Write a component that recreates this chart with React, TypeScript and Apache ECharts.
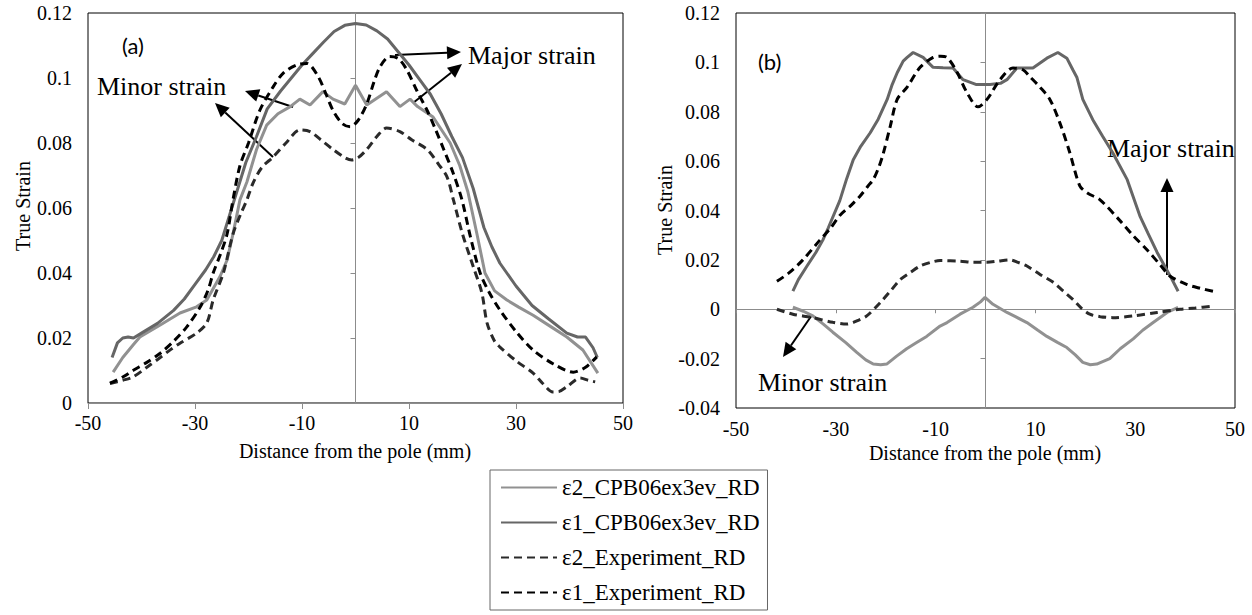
import React, { useEffect, useRef } from "react";
import * as echarts from "echarts";

// ---------- Data ----------
const X_MIN = -50;
const X_MAX = 50;
const X_STEP = 20;

const A_Y_MIN = 0;
const A_Y_MAX = 0.12;
const B_Y_MIN = -0.04;
const B_Y_MAX = 0.12;
const Y_STEP = 0.02;

const SERIES_NAMES = [
  "ε2_CPB06ex3ev_RD",
  "ε1_CPB06ex3ev_RD",
  "ε2_Experiment_RD",
  "ε1_Experiment_RD",
];

// (a) panel
const a_e2_cpb: number[][] = [
  [-45.3, 0.0095], [-43.5, 0.014], [-41.5, 0.018], [-40.3, 0.0203], [-36.5, 0.024], [-32.8, 0.0277],
  [-29.7, 0.0296], [-27.8, 0.0317], [-25.3, 0.039], [-24, 0.044], [-22.9, 0.052], [-21.6, 0.0625],
  [-20.3, 0.068], [-18.5, 0.078], [-16.6, 0.0855], [-14.5, 0.089], [-12.2, 0.0912], [-10.4, 0.0935],
  [-8.5, 0.0917], [-6.1, 0.0958], [-4.2, 0.0935], [-2, 0.092], [0, 0.0978], [2.1, 0.0917],
  [5.8, 0.0958], [8.3, 0.0912], [10.2, 0.0935], [11.6, 0.0912], [14.5, 0.088], [17.7, 0.08],
  [19.5, 0.073], [21, 0.065], [22.7, 0.052], [24.2, 0.04], [26, 0.0345], [28.3, 0.0317],
  [30.5, 0.0295], [33.2, 0.027], [36.5, 0.0235], [39.5, 0.0203], [42.5, 0.0163], [45.3, 0.0092],
];
const a_e1_cpb: number[][] = [
  [-45.5, 0.014], [-44.5, 0.0185], [-43.5, 0.02], [-42.5, 0.0203], [-41.5, 0.02], [-40, 0.0215],
  [-37, 0.0245], [-34, 0.0285], [-32, 0.032], [-30, 0.0365], [-28, 0.041], [-26.5, 0.045],
  [-25, 0.05], [-23.5, 0.058], [-22, 0.066], [-20.5, 0.074], [-18.5, 0.082], [-16.5, 0.0905],
  [-14, 0.096], [-12, 0.1], [-10, 0.104], [-8, 0.1075], [-6, 0.111], [-4, 0.1143], [-2, 0.1162],
  [0, 0.1168], [2, 0.1163], [4, 0.1145], [6, 0.112], [8, 0.108], [10, 0.104], [12, 0.0995],
  [14, 0.095], [16, 0.089], [18, 0.082], [20, 0.0755], [22, 0.066], [24, 0.054], [25.5, 0.048],
  [27, 0.043], [30, 0.036], [33, 0.03], [36, 0.026], [39.5, 0.0215], [41.5, 0.0203], [43, 0.0203],
  [44.4, 0.017], [45.2, 0.014],
];
const a_e2_exp: number[][] = [
  [-45.9, 0.006], [-43.5, 0.007], [-41.6, 0.008], [-39, 0.011], [-36.5, 0.014], [-34.5, 0.0165],
  [-32.8, 0.0184], [-29.7, 0.0215], [-27.8, 0.0246], [-26.6, 0.0317], [-24.7, 0.04], [-22.9, 0.052],
  [-21.5, 0.058], [-20.3, 0.0625], [-19.2, 0.0675], [-17.5, 0.0725], [-15.4, 0.0757], [-13, 0.08],
  [-10.4, 0.084], [-8.5, 0.0835], [-6.5, 0.081], [-4.2, 0.078], [-2, 0.0755], [-0.7, 0.0748],
  [0.5, 0.0755], [2.1, 0.078], [4, 0.082], [5.8, 0.0846], [8.3, 0.0835], [10.5, 0.081],
  [13.4, 0.078], [15.5, 0.0735], [17.1, 0.0696], [18.3, 0.0625], [20, 0.052], [22, 0.042],
  [23.6, 0.034], [24.6, 0.0246], [26, 0.019], [27, 0.0172], [30, 0.013], [33.2, 0.0092],
  [35, 0.006], [36.9, 0.0034], [38, 0.0035], [39.5, 0.005], [42, 0.0077], [43.5, 0.007], [44.8, 0.0065],
];
const a_e1_exp: number[][] = [
  [-45.9, 0.0061], [-43.5, 0.008], [-41.6, 0.01], [-39, 0.0125], [-36.5, 0.0153], [-34, 0.019],
  [-31.5, 0.0235], [-29, 0.0296], [-27.5, 0.035], [-26.6, 0.04], [-25.2, 0.046], [-24, 0.052],
  [-22.9, 0.0625], [-21.6, 0.073], [-20, 0.08], [-17.9, 0.09], [-15.5, 0.097], [-13.5, 0.1015],
  [-11, 0.104], [-9.1, 0.1045], [-7, 0.1005], [-5.5, 0.095], [-4.2, 0.09], [-2.5, 0.086],
  [-1, 0.085], [0.5, 0.087], [2.1, 0.092], [3.5, 0.099], [4.6, 0.1035], [6.4, 0.1066], [8, 0.106],
  [9.6, 0.1025], [11.5, 0.096], [13.4, 0.09], [15, 0.084], [16.5, 0.078], [18.2, 0.071],
  [19.9, 0.0625], [21.5, 0.051], [23.3, 0.04], [25, 0.034], [27, 0.0286], [30, 0.022],
  [33.2, 0.0163], [37, 0.012], [40.7, 0.0095], [43, 0.011], [45.1, 0.0142],
];

// (b) panel
const b_e2_cpb: number[][] = [
  [-38.6, 0.0008], [-36.5, -0.0008], [-34.6, -0.0027], [-32.5, -0.006], [-30.6, -0.0093], [-28, -0.0135],
  [-25.8, -0.0175], [-24, -0.0205], [-22.5, -0.0222], [-21, -0.0225], [-19.8, -0.0222], [-17.8, -0.019],
  [-15.8, -0.016], [-13.8, -0.0135], [-11.8, -0.011], [-9.1, -0.0068], [-7.7, -0.0054], [-5.1, -0.002],
  [-2.5, 0.0008], [-1, 0.003], [-0.1, 0.0048], [1.5, 0.002], [4.3, -0.0013], [6, -0.003],
  [8.3, -0.0054], [10.5, -0.0085], [12.3, -0.011], [14.5, -0.0135], [16.3, -0.0155], [18, -0.0185],
  [19.5, -0.0215], [21, -0.0225], [22.3, -0.0222], [24.9, -0.02], [27, -0.016], [29.6, -0.012],
  [31.5, -0.0085], [33.6, -0.0054], [36.4, -0.0013], [38.6, 0.0008],
];
const b_e1_cpb: number[][] = [
  [-38.6, 0.0073], [-37.5, 0.012], [-35.8, 0.0174], [-34, 0.023], [-32.6, 0.028], [-31.5, 0.033],
  [-29.2, 0.044], [-27.8, 0.053], [-26.5, 0.0606], [-25, 0.066], [-23.1, 0.0715], [-21.5, 0.077],
  [-19.7, 0.085], [-18.7, 0.091], [-17.7, 0.0958], [-16.5, 0.1005], [-15.7, 0.102], [-14.5, 0.104],
  [-12.5, 0.102], [-10.5, 0.098], [-8.5, 0.0978], [-6.5, 0.0977], [-4.5, 0.093], [-1.8, 0.091],
  [0.9, 0.091], [3, 0.0915], [4.3, 0.093], [6.3, 0.0977], [9.5, 0.0977], [12.3, 0.1017],
  [14.5, 0.104], [16.3, 0.1017], [17.5, 0.097], [18.3, 0.094], [19.5, 0.085], [21.5, 0.0768],
  [23.5, 0.07], [25.5, 0.0634], [28.4, 0.0525], [31, 0.0375], [32.5, 0.031], [34.4, 0.023],
  [37, 0.0135], [38.6, 0.0073],
];
const b_e2_exp: number[][] = [
  [-41.8, 0], [-38.6, -0.002], [-34.6, -0.0034], [-30.6, -0.0053], [-27.8, -0.006], [-25.5, -0.0045],
  [-23.8, -0.0027], [-21.1, 0.0027], [-19, 0.0075], [-17.1, 0.012], [-15, 0.015], [-13.1, 0.0175],
  [-11, 0.019], [-9.1, 0.0197], [-5.1, 0.0195], [-2.4, 0.019], [0.3, 0.019], [2.5, 0.0195],
  [4.9, 0.02], [6.5, 0.019], [8.3, 0.0175], [11, 0.014], [13.5, 0.011], [15.5, 0.0075],
  [17.5, 0.004], [19.2, 0.0005], [20.9, -0.002], [23, -0.003], [25.5, -0.0034], [29.6, -0.0027],
  [34.4, -0.0013], [39, 0], [42, 0.0005], [45.6, 0.0013],
];
const b_e1_exp: number[][] = [
  [-41.8, 0.0113], [-39.2, 0.015], [-36.6, 0.02], [-33.2, 0.028], [-31, 0.033], [-29.2, 0.038],
  [-27, 0.042], [-25.2, 0.0457], [-23.5, 0.05], [-22.5, 0.0525], [-21.3, 0.058], [-20.5, 0.063],
  [-19.1, 0.074], [-17.7, 0.085], [-15.7, 0.09], [-13.1, 0.098], [-10.5, 0.102], [-9, 0.1025],
  [-7.7, 0.102], [-5.7, 0.096], [-3.7, 0.0877], [-1.5, 0.082], [0.3, 0.085], [2.9, 0.093],
  [5.5, 0.0977], [7.5, 0.097], [9, 0.094], [10.9, 0.09], [12.9, 0.085], [14.9, 0.0755],
  [16.9, 0.0634], [18.9, 0.05], [20.5, 0.047], [22.9, 0.0444], [26.9, 0.036], [29.5, 0.03],
  [32.4, 0.024], [35, 0.018], [37, 0.0134], [40.4, 0.01], [43, 0.0085], [45.6, 0.0073],
];

// ---------- Styles ----------
const SERIF = "Liberation Serif";
const SANS = "Lato";
const AXIS_GRAY = "#8c8c8c";
const COLORS = ["#919191", "#666666", "#2a2a2a", "#000000"];
const DASH = [8, 5];

function arrow(x1: number, y1: number, x2: number, y2: number) {
  const dx = x2 - x1;
  const dy = y2 - y1;
  const L = Math.hypot(dx, dy);
  const ux = dx / L;
  const uy = dy / L;
  const hl = 14;
  const hw = 6.5;
  const bx = x2 - ux * hl;
  const by = y2 - uy * hl;
  return [
    { type: "line", shape: { x1, y1, x2: bx, y2: by }, style: { stroke: "#000", lineWidth: 2 } },
    {
      type: "polygon",
      shape: { points: [[x2, y2], [bx - uy * hw, by + ux * hw], [bx + uy * hw, by - ux * hw]] },
      style: { fill: "#000" },
    },
  ];
}

function label(text: string, x: number, y: number, size: number, family = SERIF, align = "left") {
  return {
    type: "text",
    x,
    y,
    style: { text, fill: "#000", fontSize: size, fontFamily: family, align, verticalAlign: "middle" },
  };
}

function labelAxis(gridIndex: number, yMin: number, yMax: number, margin: number) {
  return {
    gridIndex,
    type: "value",
    min: yMin,
    max: yMax,
    interval: Y_STEP,
    position: "left",
    axisLine: { show: false, onZero: false },
    axisTick: { show: false },
    splitLine: { show: false },
    axisLabel: { fontFamily: SERIF, fontSize: 20, color: "#000", margin },
  };
}
function lineYAxis(gridIndex: number, yMin: number, yMax: number) {
  return {
    gridIndex,
    type: "value",
    min: yMin,
    max: yMax,
    interval: Y_STEP,
    position: "left",
    axisLine: { show: true, onZero: true, lineStyle: { color: AXIS_GRAY, width: 1 } },
    axisTick: { show: true, length: 5, lineStyle: { color: AXIS_GRAY } },
    splitLine: { show: false },
    axisLabel: { show: false },
  };
}
function labelXAxis(gridIndex: number, margin: number, showLine: boolean) {
  return {
    gridIndex,
    type: "value",
    min: X_MIN,
    max: X_MAX,
    interval: X_STEP,
    position: "bottom",
    axisLine: { show: showLine, onZero: false, lineStyle: { color: AXIS_GRAY, width: 1 } },
    axisTick: { show: showLine, length: 6, lineStyle: { color: AXIS_GRAY } },
    splitLine: { show: false },
    axisLabel: { fontFamily: SERIF, fontSize: 20, color: "#000", margin },
  };
}
function lineXAxis(gridIndex: number) {
  return {
    gridIndex,
    type: "value",
    min: X_MIN,
    max: X_MAX,
    interval: X_STEP,
    position: "bottom",
    axisLine: { show: true, onZero: true, lineStyle: { color: AXIS_GRAY, width: 1 } },
    axisTick: { show: true, length: 4, lineStyle: { color: AXIS_GRAY } },
    splitLine: { show: false },
    axisLabel: { show: false },
  };
}

function mk(idx: number, data: number[][], xi: number, yi: number) {
  const dashed = idx >= 2;
  return {
    type: "line",
    name: SERIES_NAMES[idx],
    data,
    xAxisIndex: xi,
    yAxisIndex: yi,
    symbol: "none",
    showSymbol: false,
    smooth: dashed ? 0.3 : false,
    lineStyle: { color: COLORS[idx], width: 3, type: dashed ? DASH : "solid" },
    itemStyle: { color: COLORS[idx], opacity: 0 },
    z: 2 + idx,
  };
}

export default function App() {
  const ref = useRef<HTMLDivElement>(null);
  useEffect(() => {
    if (!ref.current) return;
    const chart = echarts.init(ref.current, undefined, { renderer: "svg" });
    const option = {
      animation: false,
      backgroundColor: "#fff",
      textStyle: { fontFamily: SERIF },
      grid: [
        { left: 88, top: 13, width: 535, height: 390, show: true, borderColor: "#000", borderWidth: 1, backgroundColor: "transparent" },
        { left: 736, top: 13, width: 499, height: 395, show: true, borderColor: "#000", borderWidth: 1, backgroundColor: "transparent" },
      ],
      xAxis: [
        labelXAxis(0, 10, true),
        labelXAxis(1, 11, false),
        lineXAxis(1),
      ],
      yAxis: [
        labelAxis(0, A_Y_MIN, A_Y_MAX, 16),
        lineYAxis(0, A_Y_MIN, A_Y_MAX),
        labelAxis(1, B_Y_MIN, B_Y_MAX, 16),
        lineYAxis(1, B_Y_MIN, B_Y_MAX),
      ],
      legend: {
        orient: "vertical",
        left: 490,
        top: 470,
        data: SERIES_NAMES,
        itemWidth: 56,
        itemHeight: 14,
        itemGap: 12,
        padding: [6, 8, 6, 10],
        borderColor: "#666",
        borderWidth: 1,
        itemStyle: { opacity: 0 },
        textStyle: { fontFamily: SERIF, fontSize: 23, color: "#000" },
      },
      series: [
        mk(0, a_e2_cpb, 0, 0),
        mk(1, a_e1_cpb, 0, 0),
        mk(2, a_e2_exp, 0, 0),
        mk(3, a_e1_exp, 0, 0),
        mk(0, b_e2_cpb, 1, 2),
        mk(1, b_e1_cpb, 1, 2),
        mk(2, b_e2_exp, 1, 2),
        mk(3, b_e1_exp, 1, 2),
      ],
      graphic: [
        label("(a)", 122, 45, 22, SANS),
        label("Minor strain", 97, 86, 26),
        label("Major strain", 468, 55, 26),
        label("(b)", 758, 61, 22, SANS),
        label("Major strain", 1107, 148, 26),
        label("Minor strain", 758, 382, 26),
        label("Distance from the pole (mm)", 355, 451, 20, SERIF, "center"),
        label("Distance from the pole (mm)", 985, 453, 20, SERIF, "center"),
        { ...label("True Strain", 23, 206, 20, SERIF, "center"), rotation: Math.PI / 2 },
        { ...label("True Strain", 665, 210, 20, SERIF, "center"), rotation: Math.PI / 2 },
        ...arrow(293, 107, 245, 91),
        ...arrow(273, 157, 215, 103),
        ...arrow(395, 55, 461, 52),
        ...arrow(413, 103, 462, 64),
        ...arrow(1167, 275, 1167, 178),
        ...arrow(812, 315, 783, 357),
      ],
    };
    chart.setOption(option as any);
    return () => chart.dispose();
  }, []);
  return (
    <div
      ref={ref}
      style={{ position: "fixed", left: 0, top: 0, width: 1252, height: 615, background: "#fff" }}
    />
  );
}
